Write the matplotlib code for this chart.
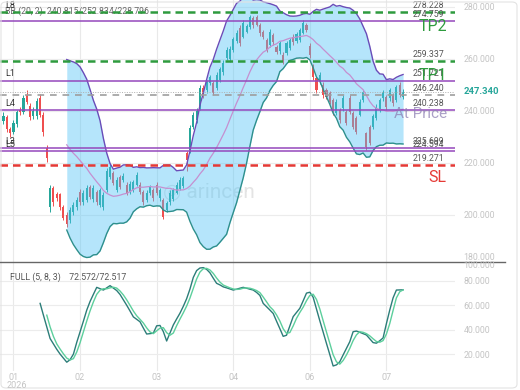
import matplotlib
matplotlib.use("Agg")
import matplotlib.pyplot as plt
import numpy as np
import pandas as pd
from matplotlib.patches import FancyBboxPatch
from matplotlib.lines import Line2D

plt.rcParams['font.family'] = ['Roboto', 'DejaVu Sans']

# ---------------------------------------------------------------- data
# daily candles, one row per bar: open, close, high, low
opens = [236, 237.5, 233, 232, 235, 240.5, 239.5, 246, 242, 238, 238, 245, 238.5, 225.8, 203, 210.5, 208, 208, 203, 200,
         198, 201, 203, 209, 205, 205.8, 210.8, 206, 208.8, 204, 203, 209.6, 214.6, 216, 209.6, 214.6, 213.5, 211.5, 209, 209.6,
         211.5, 211.5, 208.8, 205.8, 208.5, 209.6, 211.5, 206.5, 205.8, 201.9, 205, 206, 208.5, 210, 211, 224, 225, 234, 236.5, 241.5,
         249, 248, 250.8, 250.8, 249, 252, 255, 260.4, 260, 263.5, 267, 272, 268.5, 270.5, 272.3, 275.7, 276, 273, 270.3, 267.3,
         265.4, 269.2, 264.6, 263, 261.5, 262.3, 264.2, 268.5, 267, 267.3, 270, 273, 265, 257, 252.7, 251.5, 250, 248, 246.9, 244.2,
         239.2, 240.4, 241, 239.6, 245, 239.2, 237.3, 238.5, 244.2, 231.5, 233.8, 233.8, 237.3, 240.4, 245, 245.4, 244.9, 246, 244.2, 250,
         245.4]
closes = [238, 233, 231.5, 235.5, 239.5, 239.5, 245, 243.5, 237.5, 240, 244, 238.5, 232, 222, 210.5, 205, 206.5, 203, 199, 196.5,
          202, 203.8, 205.8, 205, 208.5, 210.5, 207, 210.5, 205, 209.6, 207.7, 217, 218.5, 212.3, 213.5, 210.8, 215, 208.5, 212, 212.7,
          215.4, 208.8, 205, 208.5, 210.8, 206.5, 208.5, 209.6, 199.2, 204.5, 208.5, 209.6, 211.5, 213.5, 214.2, 221, 233.5, 238.5, 240, 249,
          246, 251, 253, 247, 254, 256, 258.5, 263.5, 264, 267.5, 270, 266.2, 274, 272.5, 276, 273, 273, 270, 268.5, 263.5,
          270.4, 266.5, 262.7, 266.2, 258.9, 266.2, 267.3, 266.5, 269.6, 271.2, 274, 271.2, 261.5, 253, 248.1, 254, 246.2, 245.4, 243.5, 239.6,
          243.5, 236.5, 245, 235.4, 239.6, 233.8, 231.9, 243.5, 247.3, 226.2, 227.7, 238, 241.5, 244.2, 247.3, 241.5, 248.1, 243.1, 249.2, 246.2,
          247.34]
highs = [239.5, 238.5, 234, 236.5, 240.5, 241.5, 246, 248, 243, 241.5, 245, 246.5, 239.5, 227, 211.5, 211, 209, 208.5, 204, 201,
         203, 205, 207, 210, 209.5, 211.5, 211.5, 211.5, 209.5, 210.5, 209, 218, 219.5, 217, 214.5, 215.5, 216, 212.5, 213, 213.5,
         216.5, 212.5, 209.5, 209.5, 211.5, 210.5, 212.5, 210.5, 206.5, 205.5, 209.5, 210.5, 212.5, 214.5, 215, 224.5, 234.5, 239.5, 241, 250,
         250, 252, 254, 251.5, 255, 257, 259.5, 264.5, 265, 268.5, 271, 273, 275, 273.5, 277, 276.5, 277, 274, 271, 268,
         271.5, 270, 265.5, 267, 262.5, 267, 268, 269.5, 270.5, 272, 275, 274, 266, 258, 253.5, 255, 251, 249, 247.5, 245,
         244.5, 241, 246, 240.5, 246, 240, 238, 244.5, 248, 232, 234.5, 239, 242.5, 245, 248, 246, 249, 247, 250, 251,
         248.5]
lows = [235, 232, 230, 231, 234, 238.5, 239, 242.5, 236.5, 237, 237, 237.5, 230.5, 220.5, 201, 203.5, 205.5, 202, 198, 195.5,
        197, 200, 202, 204, 204, 205, 206, 205, 204, 203, 202, 209, 214, 211.5, 209, 210, 212.5, 207.5, 208, 209,
        211, 208, 204, 205, 207.5, 205.5, 207.5, 205.5, 198.5, 201, 204, 205.5, 208, 209.5, 210.5, 217, 224, 233, 235.5, 240.5,
        245, 247, 250, 246, 248, 251, 254, 259.5, 259, 262.5, 266, 265, 268, 270, 271.5, 272, 272.5, 269, 267.5, 262.5,
        264.5, 265.5, 262, 262, 258, 261.5, 263.5, 265.5, 266, 266.5, 269.5, 270.5, 260.5, 252, 247, 250.5, 245, 244.5, 242.5, 238.5,
        238.5, 235.5, 240, 234.5, 239, 233, 231, 238, 243.5, 225, 227, 233, 236.5, 239.5, 244, 240.5, 244, 242, 243.5, 245.5,
        244.5]

# full stochastic (5, 8, 3): %K from bar 11, %D from bar 13
stoch_k = [61.5, 51.8, 42.3, 32.8, 28.4, 24, 20.1, 16.8, 13.5, 15.5, 20.1, 29.7, 38.3, 47, 56, 63.1, 68.9, 74.6, 73.5, 72.4,
           74.2, 76, 74, 72, 68.8, 64.4, 60, 55.3, 50.5, 48.5, 46.5, 41.4, 36.5, 36.8, 37.2, 43.2, 43.5, 38.5, 30.8, 37.3,
           43.9, 48.8, 53.5, 59.1, 65.3, 73.2, 82.7, 88.3, 90.4, 90.7, 89.3, 86.5, 82.1, 77.9, 76.6, 75, 74.2, 73.3, 72.4, 73.1,
           73.9, 74.6, 73.9, 73.1, 72.4, 70.5, 68, 61.5, 58.8, 56.1, 53.3, 47, 40.9, 34.6, 35.5, 43.1, 50.7, 54.1, 57.5, 63.6,
           69.9, 70.6, 66.5, 56.9, 47.3, 38.1, 28.8, 19.7, 10.4, 11.3, 13.9, 19.4, 24.8, 30.2, 38.4, 38.9, 37.9, 36.8, 35.7, 32.6,
           29.5, 29, 31, 33.3, 45, 56, 66, 72.4, 72.5, 72.572]
stoch_d = [51.9, 42.3, 34.5, 28.4, 24.2, 20.3, 16.8, 15.3, 16.4, 21.8, 29.4, 38.3, 47.1, 55.4, 62.7, 68.9, 72.3, 73.5, 73.4, 74.2,
           74.7, 74, 71.6, 68.4, 64.4, 59.9, 55.3, 51.4, 48.5, 45.5, 41.5, 38.2, 36.8, 39.1, 41.3, 41.7, 37.6, 35.5, 37.3, 43.3,
           48.7, 53.8, 59.3, 65.9, 73.7, 81.4, 87.1, 89.8, 90.1, 88.8, 86, 82.2, 78.9, 76.5, 75.3, 74.2, 73.3, 72.9, 73.1, 73.9,
           74.1, 73.9, 73.1, 72, 70.3, 66.7, 62.8, 58.8, 56.1, 52.1, 47.1, 40.8, 37, 37.7, 43.1, 49.3, 54.1, 58.4, 63.7, 68,
           69, 64.7, 56.9, 47.4, 38.1, 28.9, 19.6, 13.8, 11.9, 14.9, 19.4, 24.8, 31.1, 35.8, 38.4, 37.9, 36.8, 35, 32.6, 30.4,
           29.8, 31.1, 36.5, 45, 55.7, 66, 71, 72.517]

# last BB values as printed in the chart legend (mid/upper/lower)
bb_legend = [240.815, 252.834, 228.796]

# horizontal levels
purple_levels = [274.759, 251.721, 240.238, 225.699, 224.594]
green_levels = [278.228, 259.337]
sl_level = 219.271
entry_level = 246.240
last_price = 247.340
left_names = ['L8', 'L1', 'L4', 'L3', 'L5']

month_bars = [3, 23, 46, 69, 92, 115]
month_labels = ['01', '02', '03', '04', '06', '07']
price_ticks = [200, 220, 240, 260, 280]
stoch_ticks = [20, 40, 60, 80]

# ---------------------------------------------------------------- derived
o = np.array(opens); c = np.array(closes); h = np.array(highs); l = np.array(lows)
n = len(c)
idx = np.arange(n)
s = pd.Series(c)
mid = s.rolling(20).mean()
sd = s.rolling(20).std(ddof=0)
upper = mid + 2 * sd
lower = mid - 2 * sd

GREEN = '#26a69a'
RED = '#ef4f4f'
W, H = 520, 390

fig = plt.figure(figsize=(5.2, 3.9), dpi=100)
fig.patch.set_facecolor('white')

ax = fig.add_axes([0, 128 / H, 455 / W, 262 / H])
ax2 = fig.add_axes([0, 19 / H, 455 / W, 109 / H])
xl = (-1.05, 135.6)
for a in (ax, ax2):
    a.set_xlim(*xl)
    for sp in a.spines.values():
        sp.set_visible(False)
    a.tick_params(length=0)
    for mb in month_bars:
        a.axvline(mb, color='#e9e9e9', lw=0.8, zorder=0)

ax.set_ylim(181.92, 282.69)
ax2.set_ylim(6.3, 95.3)

# price panel grid + labels
for p in price_ticks:
    ax.axhline(p, color='#ececec', lw=0.8, zorder=0)
ax.yaxis.tick_right()
ax.set_yticks(price_ticks)
ax.set_yticklabels(['%.3f' % p for p in price_ticks], color='#c4c4c4', fontsize=6.3)
ax.tick_params(axis='y', pad=6)
ax.set_xticks([])

# candles
up = c >= o
col = np.where(up, GREEN, RED)
ax.vlines(idx, l, h, colors=col, lw=0.7, zorder=2)
body_lo = np.minimum(o, c)
body_h = np.maximum(np.abs(c - o), 0.5)
ax.bar(idx, body_h, bottom=body_lo, width=0.62, color=col, lw=0, zorder=2)

# bollinger bands, fill drawn over the candles
ax.fill_between(idx, lower, upper, color='#4fc3f7', alpha=0.42, lw=0, zorder=3)
ax.plot(idx, upper, color='#6a4cb8', lw=1.0, zorder=4)
ax.plot(idx, mid, color='#c58fd0', lw=0.9, zorder=4)
ax.plot(idx, lower, color='#2e8f8c', lw=1.0, zorder=4)

# levels
for lv in purple_levels:
    ax.axhline(lv, color='#9448bc', lw=1.1, zorder=5)
for lv in green_levels:
    ax.axhline(lv, color='#2e9b3e', lw=1.8, ls=(0, (3, 2)), zorder=5)
ax.axhline(sl_level, color='#e53935', lw=1.8, ls=(0, (3, 2)), zorder=5)
ax.axhline(entry_level, color='#9e9e9e', lw=1.2, ls=(0, (4, 3.5)), zorder=5)
ax.axhline(last_price, color='#b0b0b0', lw=0.7, ls=(0, (1, 1.5)), zorder=5)

tr = ax.get_yaxis_transform()
for lv in purple_levels + green_levels + [sl_level, entry_level]:
    ax.annotate('%.3f' % lv, (0.976, lv), xycoords=tr, xytext=(0, 1.5), textcoords='offset points',
                ha='right', va='bottom', fontsize=6.3, color='#555555', zorder=7)
for name, lv in zip(left_names, purple_levels):
    yy = lv if name != 'L8' else 278.0
    ax.annotate(name, (0.012, yy), xycoords=tr, xytext=(0, 1.5), textcoords='offset points',
                ha='left', va='bottom', fontsize=6.5, color='#333333', zorder=7)

ax.annotate('TP2', (0.982, green_levels[0]), xycoords=tr, xytext=(0, -5.5), textcoords='offset points',
            ha='right', va='top', fontsize=11.5, color='#2e9b3e', zorder=7)
ax.annotate('TP1', (0.982, green_levels[1]), xycoords=tr, xytext=(0, -5), textcoords='offset points',
            ha='right', va='top', fontsize=11.5, color='#2e9b3e', zorder=7)
ax.annotate('SL', (0.982, sl_level), xycoords=tr, xytext=(0, -3.5), textcoords='offset points',
            ha='right', va='top', fontsize=11.5, color='#e53935', zorder=7)
ax.annotate('At Price', (0.982, entry_level), xycoords=tr, xytext=(0, -8.5), textcoords='offset points',
            ha='right', va='top', fontsize=11, color='#8e80b4', alpha=0.75, zorder=7)

ax.annotate('%.3f' % last_price, (1.0, last_price), xycoords=tr, xytext=(6, 0), textcoords='offset points',
            ha='left', va='center', fontsize=6.8, color=GREEN, fontweight='bold', zorder=7)

ax.text(0.012, 278.228, 'BB (20, 2)  %.3f/%.3f/%.3f' % tuple(bb_legend),
        transform=tr, ha='left', va='center', fontsize=6.3, color='#666666', zorder=4)
ax.text(0.46, 208.5, '\u25ce arincen', transform=tr, ha='center', va='center', fontsize=15,
        color='#e4e4e4', zorder=1)

# stochastic panel
for v in stoch_ticks:
    ax2.axhline(v, color='#ececec', lw=0.8, zorder=0)
ax2.plot(idx[n - len(stoch_k):], stoch_k, color='#2c7d79', lw=1.0, zorder=3)
ax2.plot(idx[n - len(stoch_d):], stoch_d, color='#5ccf9c', lw=1.0, zorder=3)
ax2.yaxis.tick_right()
ax2.set_yticks(stoch_ticks)
ax2.set_yticklabels(['%.3f' % v for v in stoch_ticks], color='#c4c4c4', fontsize=6.3)
ax2.tick_params(axis='y', pad=6)
ax2.set_xticks(month_bars)
ax2.set_xticklabels(month_labels, color='#c4c4c4', fontsize=6.5)
ax2.tick_params(axis='x', pad=1.5)
ax2.text(0.022, 0.86, 'FULL (5, 8, 3)    %.3f/%.3f' % (stoch_k[-1], stoch_d[-1]), transform=ax2.transAxes,
         ha='left', va='center', fontsize=6.3, color='#555555')

fig.text(463 / W, 1 - 257 / H, '180.000', ha='left', va='center', fontsize=6.3, color='#c4c4c4')
fig.text(463 / W, 1 - 265 / H, '100.000', ha='left', va='center', fontsize=6.3, color='#c4c4c4')
fig.text(7 / W, 1 - 385 / H, '2026', ha='left', va='center', fontsize=6.5, color='#c4c4c4')

# panel separator and frame
fig.add_artist(Line2D([0, 505 / W], [1 - 262 / H, 1 - 262 / H], color='#666666', lw=1.0))
fig.add_artist(FancyBboxPatch((1 / W, 2 / H), 516 / W, 386 / H, boxstyle='round,pad=0,rounding_size=0.01',
                              transform=fig.transFigure, fill=False, ec='#e3e3e3', lw=0.8))

fig.savefig('out.png', dpi=100)
